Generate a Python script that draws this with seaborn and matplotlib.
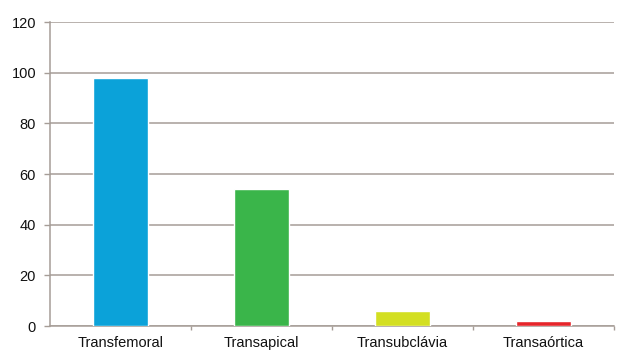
import matplotlib
matplotlib.use("Agg")
import matplotlib.pyplot as plt
import seaborn as sns
import pandas as pd

categories = ["Transfemoral", "Transapical", "Transubclávia", "Transaórtica"]
values = [98, 54, 6, 2]
colors = ["#0BA2D9", "#3AB54A", "#D3DF22", "#E6262B"]
yticks = [0, 20, 40, 60, 80, 100, 120]

sns.set_theme(style="white")
plt.rcParams["font.family"] = ["Liberation Sans", "DejaVu Sans"]

df = pd.DataFrame({"via": categories, "n": values})

fig = plt.figure(figsize=(6.17, 3.51), dpi=100)
ax = fig.add_axes([0.081, 0.071, 0.914, 0.866])

sns.barplot(data=df, x="via", y="n", hue="via", palette=colors,
            width=0.39, saturation=1, legend=False, ax=ax, zorder=3)

grid_color = "#A69D97"
ax.set_ylim(0, 120)
ax.set_yticks(yticks)
ax.set_xlim(-0.5, len(categories) - 0.5)
ax.yaxis.grid(True, color=grid_color, linewidth=1.1, zorder=0)
ax.set_axisbelow(True)

for side in ["top", "right"]:
    ax.spines[side].set_visible(False)
for side in ["left", "bottom"]:
    ax.spines[side].set_color(grid_color)
    ax.spines[side].set_linewidth(1.1)

ax.set_xlabel("")
ax.set_ylabel("")

# y ticks: short outward marks on the left spine
ax.tick_params(axis="y", which="major", left=True, length=4, width=1,
               color=grid_color, labelsize=10.5, labelcolor="#111111", pad=6)
# x ticks sit between the categories
ax.set_xticks(range(len(categories)))
ax.set_xticklabels(categories)
ax.tick_params(axis="x", which="major", bottom=False, labelsize=10.5,
               labelcolor="#111111", pad=1)
ax.set_xticks([i + 0.5 for i in range(len(categories))], minor=True)
ax.tick_params(axis="x", which="minor", bottom=True, length=3, width=1,
               color=grid_color)

fig.savefig("out.png", dpi=100)
